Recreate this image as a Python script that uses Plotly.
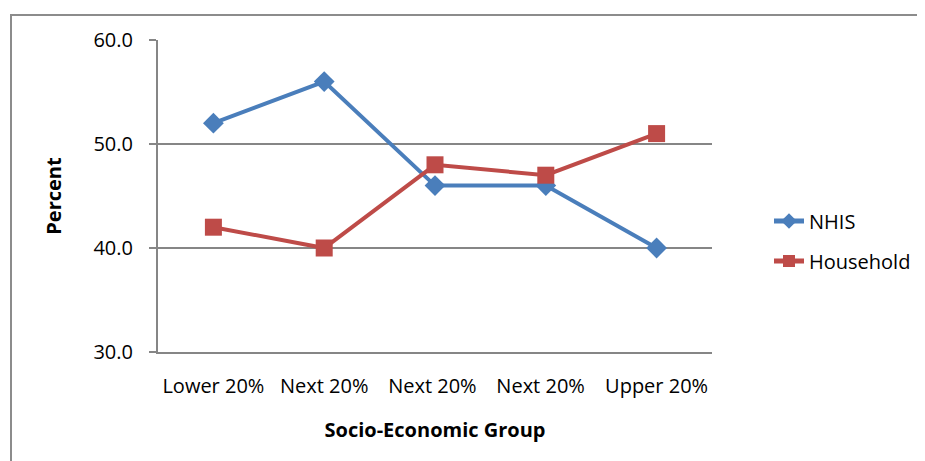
import plotly.graph_objects as go

categories = ["Lower 20%", "Next 20%", "Next 20% ", "Next 20%  ", "Upper 20%"]
nhis = [52, 56, 46, 46, 40]
household = [42, 40, 48, 47, 51]
y_ticks = [30, 40, 50, 60]

# page has an 8px body margin; figure coords = page coords - 8
OFF = 8
W, H = 925 - OFF, 461 - OFF
L, T = 158 - OFF, 40 - OFF
R, B = W - (712 - OFF), H - (352 - OFF)
pw, ph = W - L - R, H - T - B

fig = go.Figure()
fig.add_trace(go.Scatter(x=categories, y=nhis, name="NHIS", mode="lines+markers",
                         legendgroup="a",
                         line=dict(color="#4A7EBB", width=4),
                         marker=dict(symbol="diamond", size=16, color="#4A7EBB")))
fig.add_trace(go.Scatter(x=categories, y=household, name="Household", mode="lines+markers",
                         legendgroup="b",
                         line=dict(color="#BE4B48", width=4),
                         marker=dict(symbol="square", size=17, color="#BE4B48")))

fig.update_layout(
    width=W, height=H,
    margin=dict(l=L, r=R, t=T, b=B, autoexpand=False),
    paper_bgcolor="white", plot_bgcolor="white",
    font=dict(family="Open Sans", size=20, color="black"),
    showlegend=True,
    legend=dict(x=(769 - 158) / pw, y=(352 - 241) / ph, xanchor="left", yanchor="middle",
                font=dict(size=20), tracegroupgap=11, itemsizing="constant",
                traceorder="grouped", bgcolor="rgba(0,0,0,0)"),
    xaxis=dict(type="category", range=[-0.5, 4.5], showgrid=False,
               showline=True, linecolor="#868686", linewidth=2,
               ticks="", tickfont=dict(size=20), ticklabelstandoff=15,
               title=dict(text="<b>Socio-Economic Group</b>", font=dict(size=20), standoff=25)),
    yaxis=dict(range=[30, 60], tickvals=y_ticks, tickformat=".1f",
               showgrid=True, gridcolor="#868686", gridwidth=1.5,
               showline=True, linecolor="#868686", linewidth=2,
               ticks="outside", ticklen=7, tickcolor="#868686", tickwidth=1.5,
               tickfont=dict(size=20), ticklabelstandoff=12, zeroline=False,
               title=dict(text="<b>Percent</b>", font=dict(size=20), standoff=26)),
    shapes=[dict(type="rect", xref="paper", yref="paper",
                 x0=(11 - 158) / pw, x1=(940 - 158) / pw,
                 y0=-(140) / ph, y1=(352 - 15) / ph,
                 line=dict(color="#8C8C8C", width=2), layer="below")],
)

fig.write_html("out.html")
